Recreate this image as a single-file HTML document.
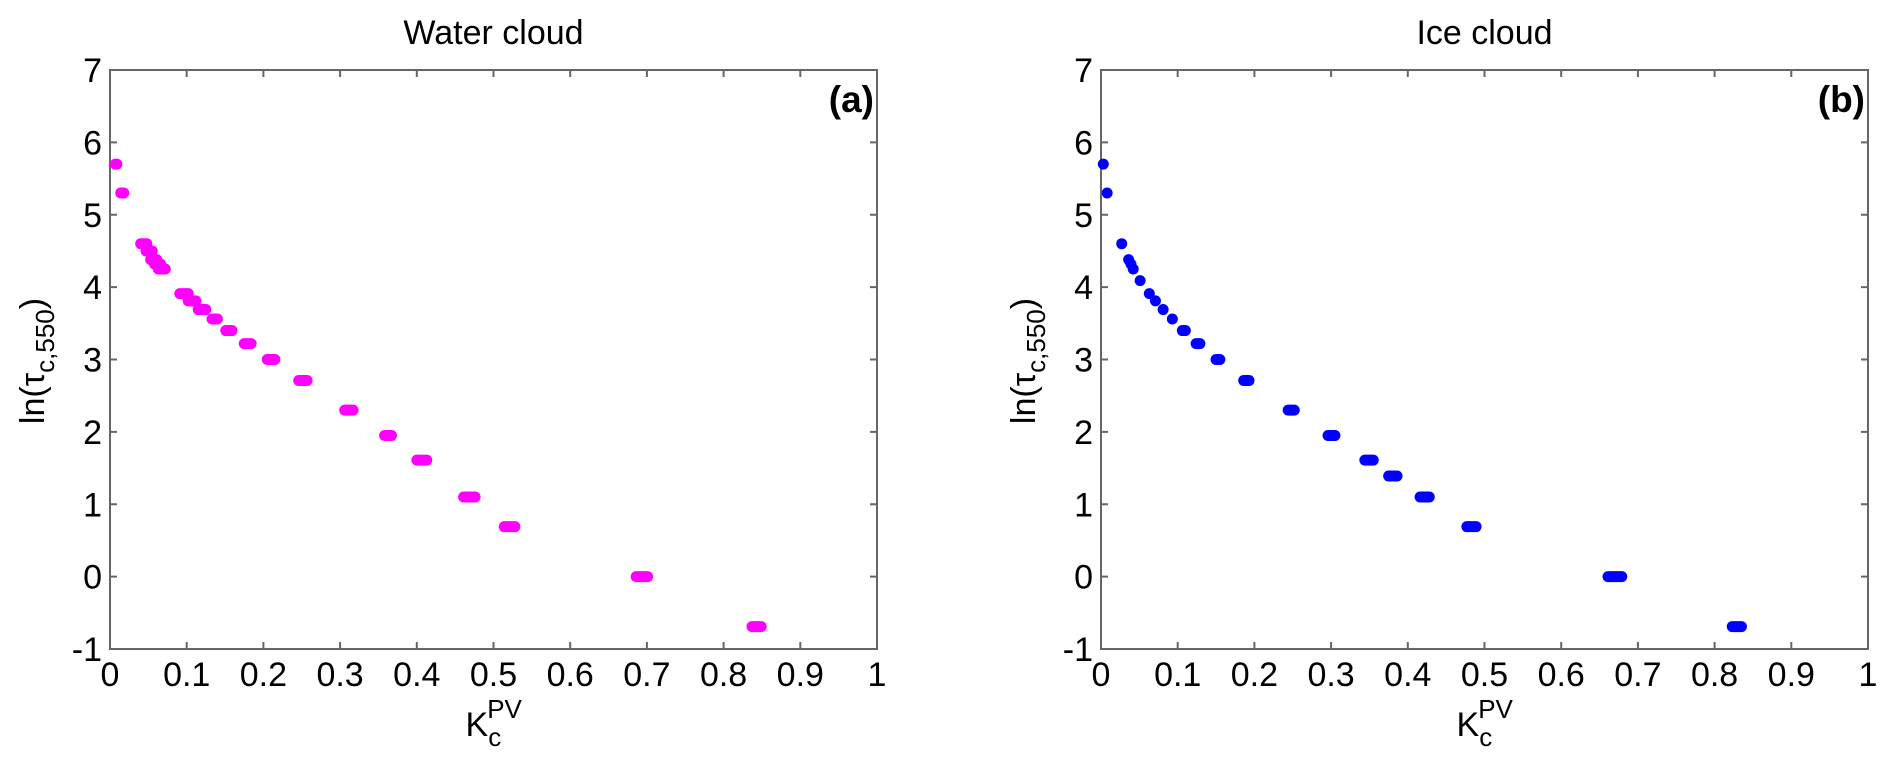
<!DOCTYPE html>
<html><head><meta charset="utf-8"><style>
html,body{margin:0;padding:0;background:#fff;}
svg{display:block;font-family:"Liberation Sans",Arial,sans-serif;}
</style></head><body>
<svg id="chart" width="1892" height="769" viewBox="0 0 1892 769" xmlns="http://www.w3.org/2000/svg">
<g id="panelA"></g>
<g id="panelB"></g>
</svg>
<script>
// Shared axis ticks
const xTicks = [0,0.1,0.2,0.3,0.4,0.5,0.6,0.7,0.8,0.9,1];
const xTickLabels = ["0","0.1","0.2","0.3","0.4","0.5","0.6","0.7","0.8","0.9","1"];
const yTicks = [-1,0,1,2,3,4,5,6,7];
const yTickLabels = ["-1","0","1","2","3","4","5","6","7"];

// Water cloud (a): ln(tau) levels with K range (min,max)
const waterY =    [5.70, 5.30, 4.60, 4.50, 4.38, 4.32, 4.25, 3.91, 3.81, 3.69, 3.56, 3.40, 3.22, 3.00, 2.71, 2.30, 1.95, 1.61, 1.10, 0.69, 0.00, -0.69];
const waterXmin = [0.007,0.014,0.040,0.047,0.053,0.058,0.063,0.091,0.102,0.115,0.133,0.151,0.175,0.205,0.246,0.306,0.358,0.400,0.461,0.514,0.686,0.837];
const waterXmax = [0.009,0.018,0.048,0.055,0.061,0.066,0.072,0.102,0.112,0.125,0.140,0.159,0.184,0.215,0.257,0.317,0.367,0.413,0.476,0.528,0.701,0.849];

// Ice cloud (b)
const iceY =    [5.70, 5.30, 4.60, 4.38, 4.32, 4.25, 4.09, 3.91, 3.81, 3.69, 3.56, 3.40, 3.22, 3.00, 2.71, 2.30, 1.95, 1.61, 1.39, 1.10, 0.69, 0.00, -0.69];
const iceXmin = [0.003,0.008,0.027,0.036,0.039,0.042,0.051,0.063,0.071,0.081,0.093,0.106,0.124,0.150,0.186,0.244,0.296,0.344,0.375,0.416,0.477,0.661,0.823];
const iceXmax = [0.003,0.008,0.027,0.036,0.039,0.042,0.051,0.063,0.071,0.081,0.093,0.110,0.129,0.155,0.193,0.252,0.305,0.355,0.386,0.428,0.489,0.679,0.835];

const NS = "http://www.w3.org/2000/svg";
function mk(tag, attrs, parent){
  const e = document.createElementNS(NS, tag);
  for (const k in attrs) e.setAttribute(k, attrs[k]);
  parent.appendChild(e);
  return e;
}

function drawPanel(g, x0, title, tag, color, ys, xmins, xmaxs){
  const x1 = x0 + 767, yTop = 70, yBot = 649;
  const sx = v => x0 + v * (x1 - x0);
  const sy = v => yBot - (v + 1) / 8 * (yBot - yTop);
  const ax = mk('rect', {x:x0, y:yTop, width:x1-x0, height:yBot-yTop, fill:'none', stroke:'#666', 'stroke-width':2}, g);
  
  
  xTicks.forEach((t, i) => {
    const X = sx(t);
    const tk = mk('path', {d:`M${X},${yBot}v-7M${X},${yTop}v7`, stroke:'#666', 'stroke-width':2}, g);
    
    
    const lb = mk('text', {x:X, y:686, 'font-size':34, 'text-anchor':'middle', fill:'#000'}, g);
    lb.textContent = xTickLabels[i];
    
    
  });
  yTicks.forEach((t, i) => {
    const Y = sy(t);
    const tk = mk('path', {d:`M${x0},${Y}h7M${x1},${Y}h-7`, stroke:'#666', 'stroke-width':2}, g);
    
    
    const lb = mk('text', {x:x0-8, y:Y+12, 'font-size':34, 'text-anchor':'end', fill:'#000'}, g);
    lb.textContent = yTickLabels[i];
    
    
  });
  ys.forEach((v, i) => {
    const p = mk('line', {x1:sx(xmins[i]), x2:sx(xmaxs[i]), y1:sy(v), y2:sy(v), stroke:color, 'stroke-width':11, 'stroke-linecap':'round'}, g);
    
    
  });
  const tt = mk('text', {x:(x0+x1)/2, y:44, 'font-size':34, 'text-anchor':'middle', fill:'#000'}, g);
  tt.textContent = title;
  
  
  const pl = mk('text', {x:x1-3, y:112, 'font-size':37, 'font-weight':'bold', 'text-anchor':'end', fill:'#000'}, g);
  pl.textContent = tag;
  
  
  const yl = mk('text', {transform:`translate(${x0-66},361) rotate(-90)`, 'font-size':34, 'text-anchor':'middle', fill:'#000'}, g);
  yl.innerHTML = 'ln(τ<tspan font-size="26" dy="10">c,550</tspan><tspan dy="-10">)</tspan>';
  
  
  const xl = mk('text', {x:(x0+x1)/2 - 28, y:736, 'font-size':34, fill:'#000'}, g);
  xl.innerHTML = 'K<tspan font-size="26" dy="10">c</tspan><tspan font-size="26" dx="-14" dy="-28">PV</tspan>';
  
  
}

drawPanel(document.getElementById('panelA'), 110, 'Water cloud', '(a)', '#ff00ff', waterY, waterXmin, waterXmax);
drawPanel(document.getElementById('panelB'), 1101, 'Ice cloud', '(b)', '#0000ff', iceY, iceXmin, iceXmax);
</script>
</body></html>
